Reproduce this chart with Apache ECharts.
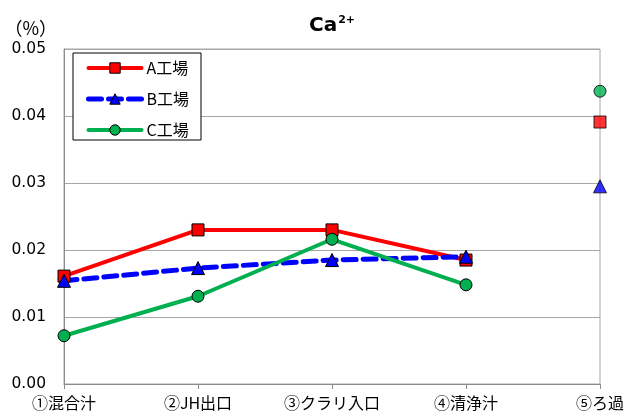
<!DOCTYPE html>
<html>
<head>
<meta charset="utf-8">
<script src="https://cdn.jsdelivr.net/npm/echarts@6/dist/echarts.min.js"></script>
<style>
  html, body { margin: 0; padding: 0; background: #fff; }
  #chart { width: 626px; height: 412px; }
</style>
</head>
<body>
<div id="chart"></div>
<script>
// Sampling points along the process
const categories = ['①混合汁', '②JH出口', '③クラリ入口', '④清浄汁', '⑤ろ過'];

// Ca2+ content (%) per plant; the last point (⑤) is plotted on its own
const plantA = [0.0161, 0.0230, 0.0230, 0.0185, 0.0391];
const plantB = [0.0154, 0.0173, 0.0185, 0.0190, 0.0295];
const plantC = [0.0072, 0.0131, 0.0216, 0.0148, 0.0437];

const yTicks = { min: 0, max: 0.05, interval: 0.01 };

const FONT_NUM = '"DejaVu Sans", sans-serif';
const FONT_JP = '"Noto Sans CJK JP", "DejaVu Sans", sans-serif';

const plants = [
  { name: 'A工場', data: plantA, color: '#ff0000', symbol: 'rect', size: 12, width: 4, dash: 'solid' },
  { name: 'B工場', data: plantB, color: '#0000ff', symbol: 'triangle', size: 13, width: 5, dash: [13, 7] },
  { name: 'C工場', data: plantC, color: '#00b050', symbol: 'circle', size: 12, width: 4, dash: 'solid' }
];

const series = [];
plants.forEach(p => {
  // connected line over ①–④
  series.push({
    name: p.name,
    type: 'line',
    data: p.data.slice(0, 4).concat([null]),
    symbol: p.symbol,
    symbolSize: p.size,
    showAllSymbol: true,
    lineStyle: { color: p.color, width: p.width, type: p.dash, cap: 'round' },
    itemStyle: { color: p.color, borderColor: '#000', borderWidth: 1 },
    emphasis: { disabled: true },
    z: 2
  });
  // standalone marker at ⑤
  series.push({
    name: p.name + '⑤',
    type: 'scatter',
    data: [null, null, null, null, p.data[4]],
    symbol: p.symbol,
    symbolSize: p.size,
    itemStyle: { color: p.color, borderColor: '#000', borderWidth: 1 },
    emphasis: { disabled: true },
    z: 3
  });
});

const chart = echarts.init(document.getElementById('chart'), null, { renderer: 'canvas' });
chart.setOption({
  animation: false,
  backgroundColor: '#ffffff',
  title: {
    text: '{a|Ca}{b|2+}',
    left: 309,
    top: 15,
    padding: 0,
    textStyle: {
      rich: {
        a: { fontFamily: FONT_NUM, fontSize: 20, fontWeight: 'bold', color: '#000' },
        b: { fontFamily: FONT_NUM, fontSize: 11, fontWeight: 'bold', color: '#000', padding: [0, 0, 11, 1] }
      }
    }
  },
  legend: {
    data: plants.map(p => ({
      name: p.name,
      lineStyle: { width: p.width, type: p.dash, color: p.color, cap: 'round' },
      itemStyle: { color: p.color, borderColor: '#000', borderWidth: 1 }
    })),
    orient: 'vertical',
    left: 73,
    top: 53,
    padding: [7, 12, 2, 13],
    itemGap: 15,
    itemWidth: 53,
    itemHeight: 13,
    backgroundColor: '#ffffff',
    borderColor: '#000000',
    borderWidth: 1,
    borderRadius: 0,
    textStyle: { fontFamily: FONT_JP, fontSize: 16, lineHeight: 15, color: '#000' }
  },
  grid: {
    left: 64,
    right: 26,
    top: 49,
    bottom: 28,
    show: true,
    borderColor: '#a6a6a6',
    borderWidth: 1,
    containLabel: false,
    outerBoundsMode: 'none'
  },
  xAxis: {
    type: 'category',
    data: categories,
    boundaryGap: false,
    axisLine: { lineStyle: { color: '#8c8c8c', width: 1 } },
    axisTick: { show: true, length: 5, lineStyle: { color: '#8c8c8c' } },
    axisLabel: { fontFamily: FONT_JP, fontSize: 16, color: '#000', margin: 11, interval: 0 },
    splitLine: { show: false }
  },
  yAxis: {
    type: 'value',
    min: yTicks.min,
    max: yTicks.max,
    interval: yTicks.interval,
    name: '（%）',
    nameLocation: 'end',
    nameGap: 12,
    nameTextStyle: { fontFamily: FONT_JP, fontSize: 18, color: '#000', align: 'right', padding: [0, 7, 0, 0] },
    axisLine: { show: true, lineStyle: { color: '#8c8c8c', width: 1 } },
    axisTick: { show: false },
    axisLabel: {
      fontFamily: FONT_NUM, fontSize: 15.5, color: '#000', margin: 18,
      formatter: v => v.toFixed(2)
    },
    splitLine: { show: true, lineStyle: { color: '#a6a6a6', width: 1 } }
  },
  series: series
});
</script>
</body>
</html>
